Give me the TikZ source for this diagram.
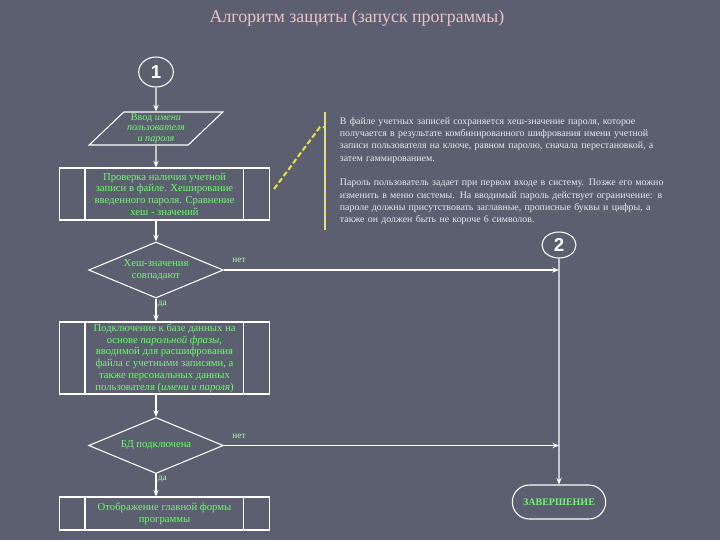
\documentclass[tikz,border=0pt]{standalone}
\usepackage{fontspec}
\setmainfont{Liberation Serif}
\newfontfamily\numberfont{Liberation Sans}
\usetikzlibrary{shapes.geometric,shapes.misc,arrows.meta}
\definecolor{slidebg}{RGB}{92,95,112}
\definecolor{flowgreen}{RGB}{112,248,112}
\definecolor{titlepink}{RGB}{236,196,200}
\definecolor{notegray}{RGB}{232,232,238}
\definecolor{calloutyellow}{RGB}{228,228,70}
\tikzset{
  flow/.style={draw=white, line width=0.8pt, text=flowgreen, align=center,
    font=\fontsize{8}{8.8}\selectfont, inner sep=1pt},
  proc/.style={flow, rectangle, minimum width=157.5pt},
  io/.style={flow, trapezium, trapezium left angle=44, trapezium right angle=136,
    trapezium stretches=true, minimum width=101pt, minimum height=24.75pt, inner sep=0pt,
    font=\fontsize{7.6}{8}\selectfont},
  test/.style={flow, diamond, shape aspect=2.4, minimum width=101pt,
    minimum height=42pt, inner sep=0pt},
  link/.style={draw=white, line width=0.8pt, ellipse, text=white, inner sep=0pt,
    font=\numberfont\bfseries\fontsize{14}{14}\selectfont},
  stop/.style={flow, rounded rectangle, minimum width=72pt, minimum height=25.5pt,
    font=\bfseries\fontsize{7.5}{8}\selectfont},
  answer/.style={text=flowgreen!55!white, font=\fontsize{7}{8}\selectfont, inner sep=1pt},
}
\begin{document}
\begin{tikzpicture}[x=0.75pt, y=-0.75pt]
  \fill[slidebg] (0,0) rectangle (720,540);
  \useasboundingbox (0,0) rectangle (720,540);
  \node[text=titlepink, font=\fontsize{13.4}{15}\selectfont] (title) at (357,18)
    {Алгоритм защиты (запуск программы)};
  \node[link, minimum width=26pt, minimum height=22.5pt] (1) at (156,72) {1};
  \node[link, minimum width=25.5pt, minimum height=19.5pt] (2) at (559,245) {2};
  \node[io] (input) at (156,128.5)
    {Ввод \textit{имени}\\\textit{пользователя}\\\textit{и пароля}};
  \node[proc, minimum height=39pt] (check) at (164.5,194)
    {Проверка наличия учетной\\записи в файле. Хеширование\\введенного пароля. Сравнение\\хеш - значений};
  \node[test] (same) at (156,270) {Хеш-значения\\совпадают};
  \node[proc, minimum height=54pt] (connect) at (164.5,358)
    {Подключение к базе данных на\\основе \textit{парольной фразы},\\вводимой для расшифрования\\файла с учетными записями, а\\также персональных данных\\пользователя (\textit{имени и пароля})};
  \node[test] (ready) at (156,445.5) {БД подключена};
  \node[proc, minimum height=24.75pt] (show) at (164.5,513.5)
    {Отображение главной формы\\программы};
  \node[stop] (finish) at (559,502) {ЗАВЕРШЕНИЕ};
  \node[anchor=north west, text=notegray, text width=250pt, align=left,
    inner xsep=11pt, inner ysep=4pt, font=\fontsize{7.4}{9.2}\selectfont] (note) at (325,112)
    {В файле учетных записей сохраняется хеш-значение пароля, которое\\
     получается в результате комбинированного шифрования имени учетной\\
     записи пользователя на ключе, равном паролю, сначала перестановкой, а\\
     затем гаммированием.\\[9.2pt]
     Пароль пользователь задает при первом входе в систему. Позже его можно\\
     изменить в меню системы. На вводимый пароль действует ограничение: в\\
     пароле должны присутствовать заглавные, прописные буквы и цифры, а\\
     также он должен быть не короче 6 символов.};
  % side lines of the process boxes
  \begin{scope}[draw=white, line width=0.8pt]
    \draw ([xshift=19.5pt]check.north west) to ([xshift=19.5pt]check.south west);
    \draw ([xshift=-20pt]check.north east) to ([xshift=-20pt]check.south east);
    \draw ([xshift=19.5pt]connect.north west) to ([xshift=19.5pt]connect.south west);
    \draw ([xshift=-20pt]connect.north east) to ([xshift=-20pt]connect.south east);
    \draw ([xshift=19.5pt]show.north west) to ([xshift=19.5pt]show.south west);
    \draw ([xshift=-20pt]show.north east) to ([xshift=-20pt]show.south east);
  \end{scope}
  % callout
  \coordinate (elbow) at (320,127);
  \draw[white!75!slidebg, line width=0.9pt] (note.north west) to (note.south west);
  \draw[calloutyellow, line width=0.9pt, dash pattern=on 3pt off 2pt] (note.north west) to (note.south west);
  \draw[calloutyellow, line width=1.5pt, dash pattern=on 4pt off 2pt]
    ([shift={(4,-5)}]check.east) -- (elbow) -- (elbow -| note.west);
  % connectors
  \begin{scope}[draw=white, line width=0.8pt, -{Stealth[length=5pt,width=4pt]}]
    \draw (1) to (input);
    \draw (input) to (input |- check.north);
    \draw (check.south -| same) to (same);
    \draw (same) to node[answer, pos=0.25, right] {да} (same |- connect.north);
    \draw (same.east) to node[answer, pos=0.02, anchor=south west, yshift=4pt] {нет} (same.east -| 2);
    \draw (connect.south -| ready) to (ready);
    \draw (ready) to node[answer, pos=0.25, right] {да} (ready |- show.north);
    \draw (ready.east) to node[answer, pos=0.02, anchor=south west, yshift=4pt] {нет} (ready.east -| 2);
    \draw (2) to (finish);
  \end{scope}
\end{tikzpicture}
\end{document}
